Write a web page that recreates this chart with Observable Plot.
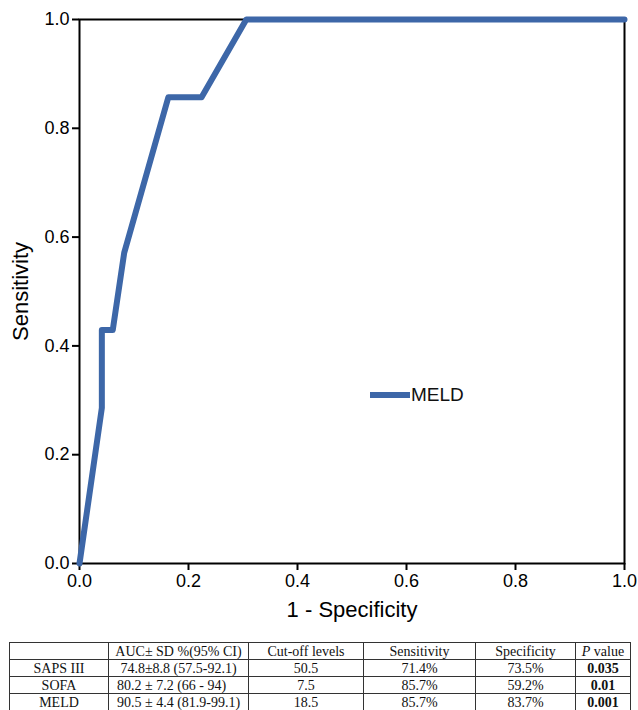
<!DOCTYPE html>
<html>
<head>
<meta charset="utf-8">
<script src="https://cdn.jsdelivr.net/npm/d3@7"></script>
<script src="https://cdn.jsdelivr.net/npm/@observablehq/plot@0.6"></script>
<style>
  html, body { margin: 0; padding: 0; background: white; }
  #wrap { position: relative; width: 638px; height: 710px; overflow: hidden; }
  #legend { position: absolute; left: 370px; top: 384px; display: flex; align-items: center; font-family: "Liberation Sans", Arial, sans-serif; font-size: 19px; color: #111; }
  #legend .sw { width: 40px; height: 6px; margin-right: 1px; }
  table { position: absolute; left: 9px; top: 642px; border-collapse: collapse; font-family: "Liberation Serif", "Times New Roman", serif; font-size: 14px; color: #111; table-layout: fixed; }
  td { border: 1px solid #333; height: 16px; padding: 0 3px; text-align: center; line-height: 15px; white-space: nowrap; overflow: hidden; }
  td.l { text-align: left; padding-left: 8px; }
  td.b { font-weight: bold; }
</style>
</head>
<body>
<div id="wrap"></div>
<script>
// ROC curve for MELD
const fpr = [0, 0.041, 0.041, 0.061, 0.082, 0.163, 0.224, 0.306, 1.0];
const tpr = [0, 0.286, 0.429, 0.429, 0.571, 0.857, 0.857, 1.0, 1.0];
const seriesName = "MELD";
const xTicks = [0, 0.2, 0.4, 0.6, 0.8, 1.0];
const yTicks = [0, 0.2, 0.4, 0.6, 0.8, 1.0];
const xLabel = "1 - Specificity";
const yLabel = "Sensitivity";
const lineColor = "#3d67a8";

// Table
const tableHeader = ["", "AUC\u00b1 SD %(95% CI)", "Cut-off levels", "Sensitivity", "Specificity", "P value"];
const scores = ["SAPS III", "SOFA", "MELD"];
const auc = ["74.8\u00b18.8 (57.5-92.1)", "80.2 \u00b1 7.2 (66 - 94)", "90.5 \u00b1 4.4 (81.9-99.1)"];
const cutoff = ["50.5", "7.5", "18.5"];
const sensitivity = ["71.4%", "85.7%", "85.7%"];
const specificity = ["73.5%", "59.2%", "83.7%"];
const pvalue = ["0.035", "0.01", "0.001"];

const data = fpr.map((x, i) => ({x, y: tpr[i]}));

const chart = Plot.plot({
  width: 638,
  height: 632,
  marginTop: 19,
  marginRight: 14,
  marginBottom: 69,
  marginLeft: 79,
  x: {domain: [0, 1]},
  y: {domain: [0, 1]},
  style: {fontFamily: "'Liberation Sans', Arial, sans-serif", color: "black", background: "white"},
  marks: [
    Plot.frame({stroke: "black", strokeWidth: 2}),
    Plot.axisX({ticks: xTicks, tickFormat: d3.format(".1f"), tickSize: 7, tickPadding: 4, fontSize: 18, strokeWidth: 2, label: null}),
    Plot.axisY({ticks: yTicks, tickFormat: d3.format(".1f"), tickSize: 7, tickPadding: 3, fontSize: 18, strokeWidth: 2, label: null}),
    Plot.line(data, {x: "x", y: "y", stroke: lineColor, strokeWidth: 6}),
    Plot.text([xLabel], {text: d => d, frameAnchor: "bottom", dy: 53, fontSize: 22, fill: "black"}),
    Plot.text([yLabel], {text: d => d, frameAnchor: "left", textAnchor: "middle", dx: -59, rotate: -90, fontSize: 22, fill: "black"})
  ]
});

const wrap = document.getElementById("wrap");
wrap.appendChild(chart);

const legend = document.createElement("div");
legend.id = "legend";
legend.innerHTML = `<div class="sw" style="background:${lineColor}"></div><span>${seriesName}</span>`;
wrap.appendChild(legend);

const widths = [99, 140, 115, 112, 100, 55];
const table = document.createElement("table");
const cg = document.createElement("colgroup");
widths.forEach(w => { const c = document.createElement("col"); c.style.width = w + "px"; cg.appendChild(c); });
table.appendChild(cg);
const hr = document.createElement("tr");
tableHeader.forEach((h, i) => {
  const td = document.createElement("td");
  if (i === 5) td.innerHTML = "<i>P</i> value";
  else td.textContent = h;
  hr.appendChild(td);
});
table.appendChild(hr);
scores.forEach((s, r) => {
  const tr = document.createElement("tr");
  const vals = [s, auc[r], cutoff[r], sensitivity[r], specificity[r], pvalue[r]];
  vals.forEach((v, i) => {
    const td = document.createElement("td");
    td.textContent = v;
    if (i === 1 && r > 0) td.className = "l";
    if (i === 5) td.className = "b";
    tr.appendChild(td);
  });
  table.appendChild(tr);
});
wrap.appendChild(table);
</script>
</body>
</html>
